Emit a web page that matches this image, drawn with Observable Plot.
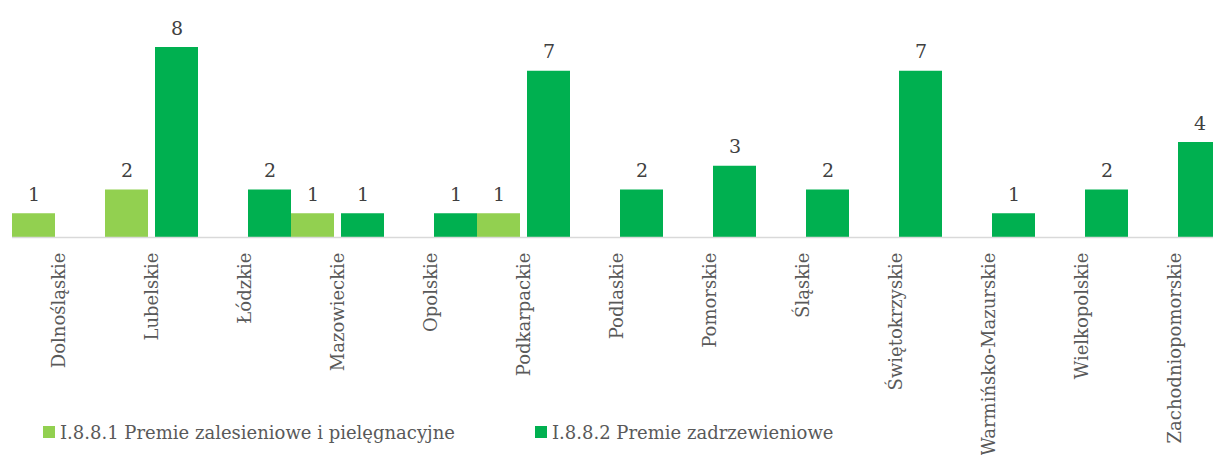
<!DOCTYPE html>
<html>
<head>
<meta charset="utf-8">
<script src="https://cdn.jsdelivr.net/npm/d3@7"></script>
<script src="https://cdn.jsdelivr.net/npm/@observablehq/plot@0.6"></script>
<style>
  html, body { margin: 0; padding: 0; background: #fff; overflow: hidden; }
  #wrap { position: relative; width: 1213px; }
  #legend { position: relative; height: 43px; font-family: "DejaVu Serif", serif; font-size: 18px; color: #595959; }
  .item { position: absolute; top: 0; height: 40px; display: flex; align-items: center; white-space: nowrap; }
  .sw { display: inline-block; width: 12px; height: 12px; margin-right: 5px; }
</style>
</head>
<body>
<div id="wrap">
  <div id="chart"></div>
  <div id="legend"></div>
</div>
<script>
const categories = ["Dolnośląskie","Lubelskie","Łódzkie","Mazowieckie","Opolskie","Podkarpackie","Podlaskie","Pomorskie","Śląskie","Świętokrzyskie","Warmińsko-Mazurskie","Wielkopolskie","Zachodniopomorskie"];
const seriesNames = ["I.8.8.1 Premie zalesieniowe i pielęgnacyjne","I.8.8.2 Premie zadrzewieniowe"];
const seriesColors = ["#92D050","#00B050"];
const premieZalesieniowe = [1,2,null,1,null,1,null,null,null,null,null,null,null];
const premieZadrzewieniowe = [null,8,2,1,1,7,2,3,2,7,1,2,4];

const rows = [];
categories.forEach((c, i) => {
  if (premieZalesieniowe[i] != null) rows.push({region: c, series: seriesNames[0], value: premieZalesieniowe[i]});
  if (premieZadrzewieniowe[i] != null) rows.push({region: c, series: seriesNames[1], value: premieZadrzewieniowe[i]});
});

const font = "DejaVu Serif";
const chart = Plot.plot({
  width: 1221,
  height: 412,
  marginLeft: 12,
  marginRight: 0,
  marginTop: 47,
  marginBottom: 175,
  style: {fontFamily: font, maxWidth: "none", overflow: "visible", background: "transparent"},
  fx: {domain: categories, padding: 0, label: null},
  x: {domain: seriesNames, paddingInner: 0.14, paddingOuter: 0, axis: null},
  y: {domain: [0, 8], axis: null},
  color: {domain: seriesNames, range: seriesColors},
  marks: [
    Plot.barY(rows, {fx: "region", x: "series", y: "value", fill: "series"}),
    Plot.ruleY([0], {stroke: "#d9d9d9", strokeWidth: 1.5}),
    Plot.text(rows, {fx: "region", x: "series", y: "value", text: d => String(d.value), lineAnchor: "bottom", dy: -13, fontSize: 19, fill: "#404040"}),
    Plot.axisFx({anchor: "bottom", tickRotate: -90, tickSize: 0, tickPadding: 15, fontSize: 18, color: "#595959", label: null})
  ]
});
document.getElementById("chart").appendChild(chart);

const legend = document.getElementById("legend");
const lefts = [43, 535];
seriesNames.forEach((s, i) => {
  const it = document.createElement("div");
  it.className = "item";
  it.style.left = lefts[i] + "px";
  const sw = document.createElement("span");
  sw.className = "sw";
  sw.style.background = seriesColors[i];
  it.appendChild(sw);
  it.appendChild(document.createTextNode(s));
  legend.appendChild(it);
});
</script>
</body>
</html>
